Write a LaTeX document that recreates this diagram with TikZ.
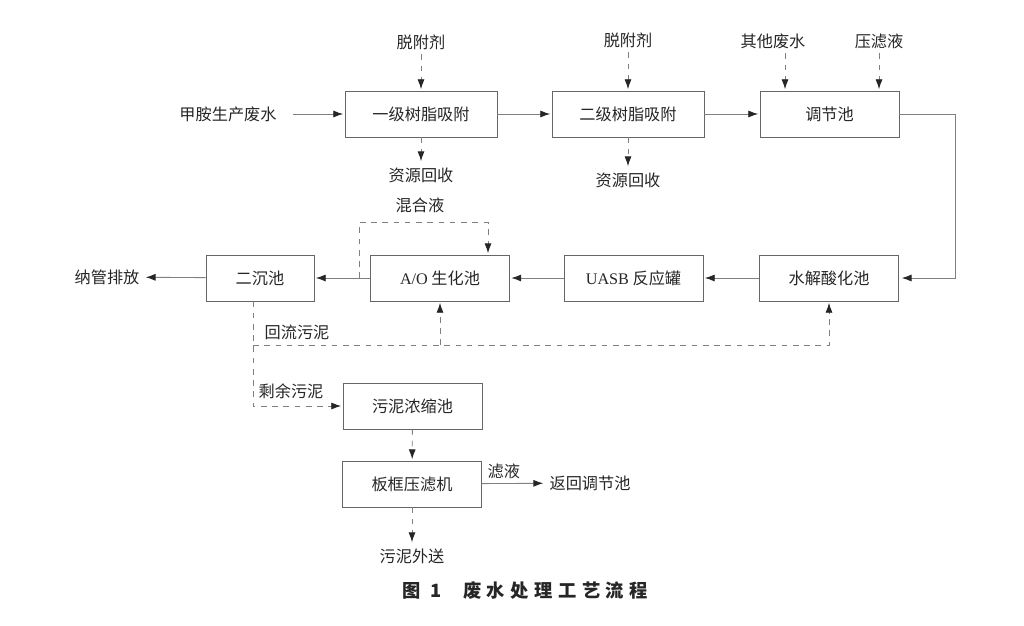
\documentclass[tikz,border=0pt]{standalone}
\usepackage{fontspec}
\setmainfont{Noto Sans CJK SC}
\newfontfamily\latin{Liberation Serif}
\newfontfamily\capfont{Noto Sans CJK SC}[LetterSpace=30]
\usetikzlibrary{arrows.meta}

\begin{document}
\begin{tikzpicture}[x=0.025cm,y=-0.025cm,
  >={Latex[length=7pt,width=5pt,color=black!85]},
  font=\fontsize{11.5}{13}\selectfont, text=black!85,
  unit/.style={draw=black!60,line width=0.6pt,minimum width=3.475cm,
    minimum height=1.15cm,inner sep=0pt},
  flow/.style={draw=black!50,line width=0.6pt,shorten >=1pt},
  dflow/.style={draw=black!50,line width=0.6pt,dash pattern=on 4pt off 4pt,shorten >=1pt}]

  \useasboundingbox (0,0) rectangle (1024,625);

  % process units
  \node[unit,minimum width=3.8cm] (ads1) at (421,114) {一级树脂吸附};
  \node[unit,minimum width=3.8cm] (ads2) at (628,114) {二级树脂吸附};
  \node[unit] (tank) at (829.5,114) {调节池};
  \node[unit] (hydro) at (829,278) {水解酸化池};
  \node[unit] (uasb) at (633.5,278) {{\latin UASB} 反应罐};
  \node[unit] (ao) at (440,278) {{\latin A/O} 生化池};
  \node[unit,minimum width=2.7cm] (settle) at (260,278) {二沉池};
  \node[unit] (thick) at (412.5,406) {污泥浓缩池};
  \node[unit] (press) at (412,484) {板框压滤机};

  % in- and outflows
  \node (raw) at (228,114) {甲胺生产废水};
  \node (des1) at (421,42) {脱附剂};
  \node (rec1) at (421,175) {资源回收};
  \node (des2) at (628,40) {脱附剂};
  \node (rec2) at (628,180) {资源回收};
  \node (other) at (773,41) {其他废水};
  \node (filt) at (879,41) {压滤液};
  \node (out) at (107,277) {纳管排放};
  \node (back) at (590,483) {返回调节池};
  \node (cake) at (412,556) {污泥外送};
  \coordinate (retline) at (253,345);

  \path[flow,->]
    (raw) edge[shorten <=8pt] (ads1)
    (ads1) edge (ads2)
    (ads2) edge (tank)
    (hydro) edge (uasb)
    (uasb) edge (ao)
    (ao) edge (settle)
    (settle) edge (out)
    (press) edge node[above,pos=0.35] {滤液} (back);
  \draw[flow,->,shorten >=2pt] (tank.east) -- ++(56,0) |- (hydro.east);

  \path[dflow,->]
    (des1) edge (ads1)
    (ads1) edge (rec1)
    (des2) edge (ads2)
    (ads2) edge (rec2)
    (thick) edge (press)
    (press) edge (cake);
  \draw[dflow,->] ([xshift=0.3cm]other.south) -- ([xshift=0.3cm]other.south |- tank.north);
  \draw[dflow,->] (filt.south) -- (filt.south |- tank.north);

  % mixed liquor and sludge
  \draw[dflow,->] ([xshift=-0.275cm]ao.west) |- ([xshift=1.2cm,yshift=0.8cm]ao.north)
    -- ([xshift=1.2cm]ao.north);
  \node at (420,205) {混合液};
  \draw[dflow,->] (retline) -| (hydro.south);
  \draw[dflow,->] (retline -| ao.south) -- (ao.south);
  \draw[dflow,->] (settle.south -| retline) |- (thick.west);
  \node at (297,332) {回流污泥};
  \node at (291,391) {剩余污泥};

  \node[font=\capfont\fontsize{13}{15}\selectfont\bfseries] (caption) at (525,591)
    {图 1\hspace{1.2em}废水处理工艺流程};

\end{tikzpicture}
\end{document}
